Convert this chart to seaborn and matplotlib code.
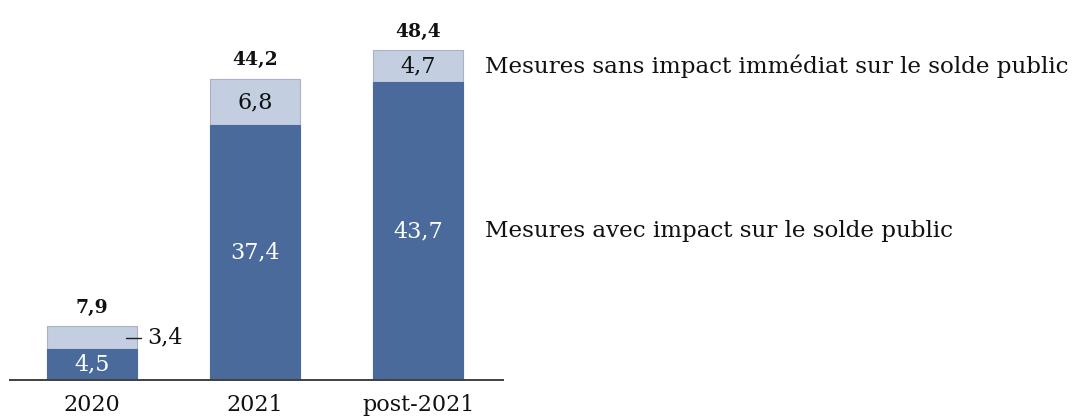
import matplotlib
matplotlib.use("Agg")
import matplotlib.pyplot as plt
import seaborn as sns
import pandas as pd

#==== data ====

categories = ["2020", "2021", "post-2021"]
avec_impact = [4.5, 37.4, 43.7]
sans_impact = [3.4, 6.8, 4.7]
totals = [7.9, 44.2, 48.4]
series_labels = ["Mesures sans impact immédiat sur le solde public",
                 "Mesures avec impact sur le solde public"]

df = pd.DataFrame({"annee": categories, "avec": avec_impact,
                   "sans": sans_impact, "total": totals})

def fr(v):
    return f"{v:.1f}".replace(".", ",")

#==== style ====

sns.set_style("white")
plt.rcParams['font.family'] = ['DejaVu Serif', 'Liberation Serif']

light = "#c3cee1"
dark = "#4a6a9b"
edge = "#a9b3c4"
fs = 16

fig = plt.figure(figsize=(10.81, 4.19), dpi=100)
ax = fig.add_axes([0.0093, 0.093, 0.456, 0.894])

# light bar = total, dark bar drawn over it = part avec impact
sns.barplot(data=df, x="annee", y="total", color=light, width=0.55,
            saturation=1, edgecolor=edge, linewidth=0.8, errorbar=None, ax=ax)
sns.barplot(data=df, x="annee", y="avec", color=dark, width=0.55,
            saturation=1, edgecolor=dark, linewidth=0.8, errorbar=None, ax=ax)

ax.set_xlim(-0.5, 2.52)
ax.set_ylim(0, 55)
ax.set_xlabel("")
ax.set_ylabel("")
ax.set_yticks([])
ax.tick_params(axis="x", length=0, pad=10, labelsize=fs, labelcolor="#111111")
for s in ["top", "right", "left"]:
    ax.spines[s].set_visible(False)
ax.spines["bottom"].set_color("#404040")
ax.spines["bottom"].set_linewidth(1.4)

#==== labels ====

ax.bar_label(ax.containers[1], labels=[fr(v) for v in avec_impact],
             label_type="center", color="white", fontsize=fs)
ax.bar_label(ax.containers[0], labels=[fr(v) for v in totals],
             padding=7, fontsize=13.5, fontweight="bold", color="#111111")

for i, (a, s) in enumerate(zip(avec_impact, sans_impact)):
    mid = a + s / 2
    if s < 4:
        ax.plot([i + 0.21, i + 0.30], [mid, mid], color="#202020", lw=1, clip_on=False)
        ax.text(i + 0.34, mid, fr(s), ha="left", va="center", fontsize=fs, color="#111111")
    else:
        ax.text(i, mid, fr(s), ha="center", va="center", fontsize=fs, color="#111111")

last = len(categories) - 1
ax.text(last + 0.41, avec_impact[last] + sans_impact[last] / 2, series_labels[0],
        ha="left", va="center", fontsize=16.6, color="#111111", clip_on=False)
ax.text(last + 0.41, avec_impact[last] / 2, series_labels[1],
        ha="left", va="center", fontsize=16.6, color="#111111", clip_on=False)

plt.savefig("out.png", dpi=100)
